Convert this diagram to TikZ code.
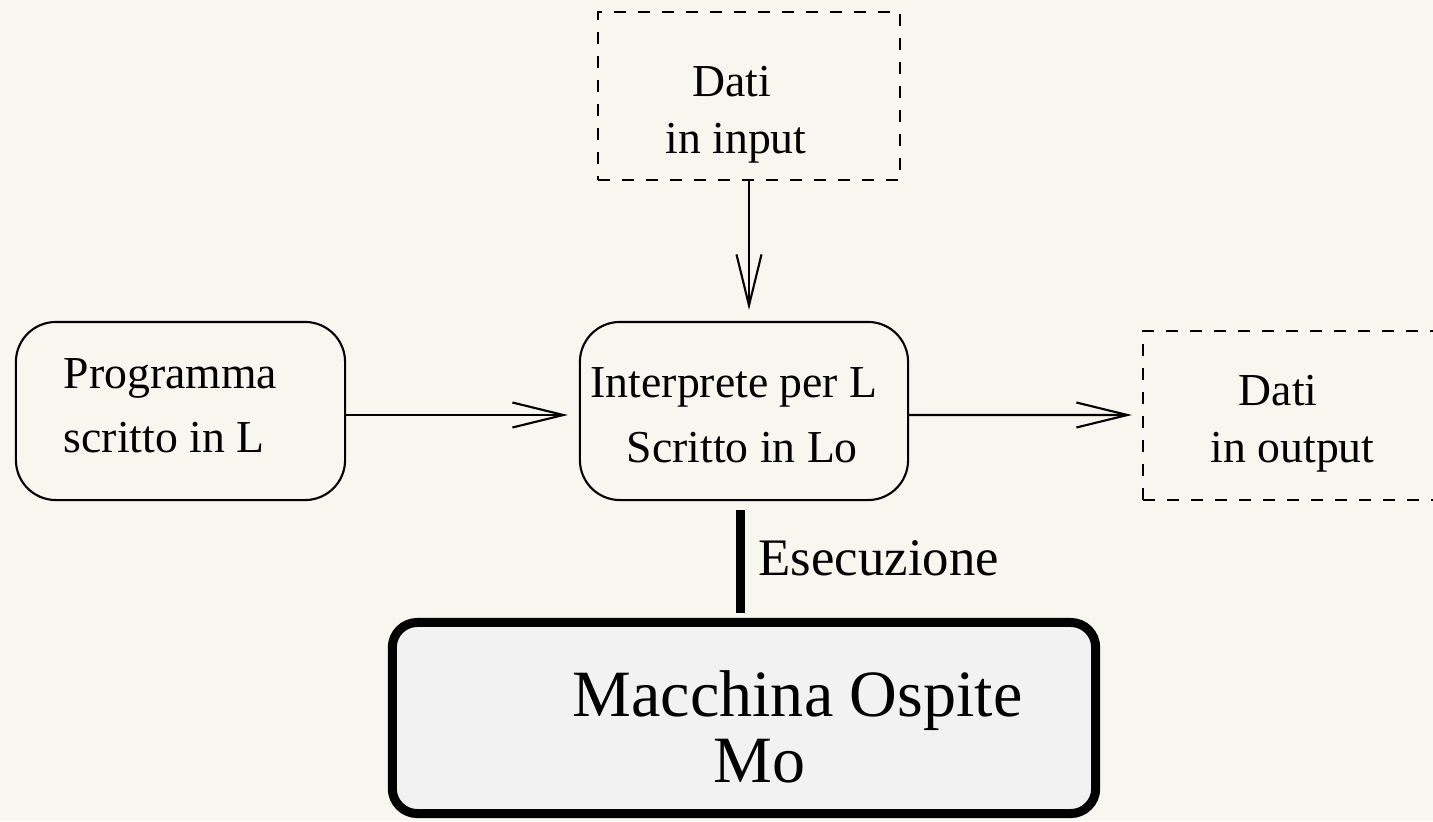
\documentclass[tikz,border=0pt]{standalone}
\usepackage{fontspec}
\setmainfont{Liberation Serif}
\usetikzlibrary{arrows.meta}
\definecolor{paper}{HTML}{F7F7F0}
\definecolor{hostfill}{HTML}{F2F2F2}
\tikzset{
  thin line/.style={line width=0.6pt},
  roundbox/.style={draw, thin line, rounded corners=0.4cm, inner sep=0pt},
  databox/.style={draw, thin line, dash pattern=on 0.12cm off 0.12cm, inner sep=0pt},
  hostbox/.style={draw, line width=0.09cm, rounded corners=0.25cm, fill=hostfill, inner sep=0pt},
  flow/.style={thin line, -{Straight Barb[length=0.51cm, width=0.25cm, line width=0.6pt]}},
  txt/.style={inner sep=0pt, font=\fontsize{13pt}{15pt}\selectfont},
  bigtxt/.style={inner sep=0pt, font=\fontsize{15pt}{18pt}\selectfont},
  hosttxt/.style={inner sep=0pt, font=\fontsize{18.8pt}{22pt}\selectfont},
}
\begin{document}
\begin{tikzpicture}[x=0.01cm, y=-0.01cm]
  % page and background
  \fill[paper] (0,0) rectangle (1433,821);
  \useasboundingbox (0,0) rectangle (1433,821);
  \clip (0,0) rectangle (1433,821);

  % boxes
  \node[databox, minimum width=3.02cm, minimum height=1.68cm] (inp) at (749,96) {};
  \node[roundbox, minimum width=3.29cm, minimum height=1.78cm] (prog) at (180.5,411) {};
  \node[roundbox, minimum width=3.28cm, minimum height=1.78cm] (interp) at (744,411) {};
  \node[databox, minimum width=3.17cm, minimum height=1.69cm] (out) at (1301.5,415.5) {};
  \node[hostbox, minimum width=7.03cm, minimum height=1.91cm] (host) at (744,718) {};

  % texts
  \node[txt, anchor=base] (inpa) at (732,96) {Dati};
  \node[txt, anchor=base] (inpb) at (736,153) {in input};
  \node[txt, anchor=base west] (proga) at (63,388) {Programma};
  \node[txt, anchor=base west] (progb) at (63,452) {scritto in L};
  \node[txt, anchor=base west] (interpa) at (590,397) {Interprete per L};
  \node[txt, anchor=base west] (interpb) at (626,462) {Scritto in Lo};
  \node[txt, anchor=base west] (outa) at (1238,405) {Dati};
  \node[txt, anchor=base west] (outb) at (1210,462) {in output};
  \node[bigtxt, anchor=base west] (exec) at (758,575) {Esecuzione};
  \node[hosttxt, anchor=base west] (hosta) at (572,716) {Macchina Ospite};
  \node[hosttxt, anchor=base west] (hostb) at (713,782) {Mo};

  % data and program flow
  \draw[flow] (inp.south) -- ([yshift=0.11cm]inp.south |- interp.north);
  \draw[flow] ([yshift=-0.04cm]prog.east) -- ([xshift=-0.11cm,yshift=-0.04cm]interp.west);
  \draw[flow] ([yshift=-0.04cm]interp.east) -- ([xshift=-0.1cm,yshift=0.005cm]out.west);

  % execution link to the host machine
  \coordinate (execx) at (740,0);
  \draw[line width=0.09cm] ([yshift=-0.09cm]execx |- interp.south)
    -- ([yshift=0.05cm]execx |- host.north);
\end{tikzpicture}
\end{document}
